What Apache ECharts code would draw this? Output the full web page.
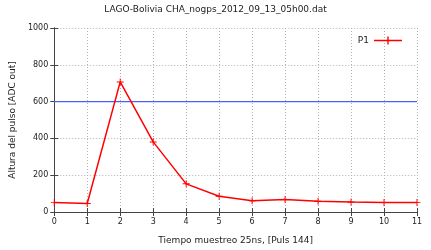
<!DOCTYPE html>
<html><head><meta charset="utf-8">
<script src="https://cdn.jsdelivr.net/npm/echarts@6/dist/echarts.min.js"></script>
<style>html,body{margin:0;padding:0;background:#fff}#c{width:431px;height:250px}</style>
</head><body><div id="c"></div>
<script>
const titleText = 'LAGO-Bolivia CHA_nogps_2012_09_13_05h00.dat';
const xName = 'Tiempo muestreo 25ns, [Puls 144]';
const yName = 'Altura del pulso [ADC out]';
const seriesName = 'P1';
const xValues = [0,1,2,3,4,5,6,7,8,9,10,11];
const p1Values = [51,46,707,381,153,86,61,68,58,54,51,51];
const thresholdValue = 600;

const data = xValues.map((x,i)=>[x,p1Values[i]]);
const thresholdData = [[xValues[0],thresholdValue],[xValues[xValues.length-1],thresholdValue]];
const plus = 'path://M4.3,0H5.7V4.3H10V5.7H5.7V10H4.3V5.7H0V4.3H4.3Z';
const legendIcon = 'path://M0,3.3H13.3V0H14.7V3.3H28V4.7H14.7V8H13.3V4.7H0Z';
const font = 'DejaVu Sans';
const axisCommon = {
  axisLine:{show:true,lineStyle:{color:'#444',width:1}},
  axisTick:{show:true,inside:true,length:4,lineStyle:{color:'#444'}},
};
const chart = echarts.init(document.getElementById('c'),null,{renderer:'canvas'});
chart.setOption({
  animation:false,
  backgroundColor:'#fff',
  textStyle:{fontFamily:font},
  title:{text:titleText,left:'center',top:0,textStyle:{fontSize:9,fontWeight:'normal',color:'#222',fontFamily:font}},
  grid:{left:53,right:14,top:28,bottom:37},
  legend:{right:24,top:31,itemWidth:28,itemHeight:8,align:'right',itemGap:4,
    textStyle:{fontSize:9,color:'#222',fontFamily:font},
    data:[{name:seriesName,icon:legendIcon}]},
  xAxis:[
    Object.assign({type:'value',min:0,max:11,interval:1,position:'bottom',
      name:xName,nameLocation:'middle',nameGap:24,
      nameTextStyle:{fontSize:9,color:'#222'},
      axisLabel:{fontSize:8,color:'#222',margin:6},
      splitLine:{show:true,lineStyle:{color:'#b0b0b0',type:[1,2],width:1}}},axisCommon),
    Object.assign({type:'value',min:0,max:11,interval:1,position:'top',
      axisLabel:{show:false},splitLine:{show:false}},axisCommon)
  ],
  yAxis:[
    Object.assign({type:'value',min:0,max:1000,interval:200,position:'left',
      name:yName,nameLocation:'middle',nameGap:36,
      nameTextStyle:{fontSize:9,color:'#222'},
      axisLabel:{fontSize:8,color:'#222',margin:6,formatter:v=>String(v)},
      splitLine:{show:true,lineStyle:{color:'#b0b0b0',type:[1,2],width:1}}},axisCommon),
    Object.assign({type:'value',min:0,max:1000,interval:200,position:'right',
      axisLabel:{show:false},splitLine:{show:false}},axisCommon)
  ],
  series:[{
    name:'threshold',type:'line',data:thresholdData,symbol:'none',silent:true,
    lineStyle:{color:'#4f5fff',width:1.2},itemStyle:{color:'#4f5fff'},z:1
  },{
    name:seriesName,type:'line',data:data,
    symbol:plus,symbolSize:7,showAllSymbol:true,
    lineStyle:{color:'#ff0000',width:1.5},
    itemStyle:{color:'#ff0000'},z:3
  }]
});
</script></body></html>
